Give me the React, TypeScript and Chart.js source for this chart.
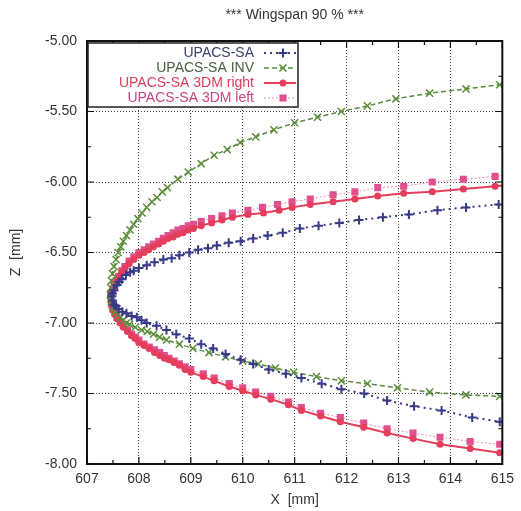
import React, { useEffect, useRef } from "react";
import { Chart, registerables } from "chart.js";

Chart.register(...registerables);

const TITLE = "*** Wingspan 90 % ***";
const X_TITLE = "X  [mm]";
const Y_TITLE = "Z  [mm]";
const X_MIN = 607;
const X_MAX = 615;
const Z_MIN = -8;
const Z_MAX = -5;

// UPACS-SA (blue, dotted, +)
const saX = [615.5, 614.93, 614.3, 613.75, 613.2, 612.7, 612.24, 611.86, 611.46, 611.1, 610.77, 610.48, 610.2, 609.96, 609.73, 609.5, 609.33, 609.14, 608.97, 608.78, 608.63, 608.47, 608.3, 608.15, 608.0, 607.9, 607.83, 607.75, 607.67, 607.62, 607.58, 607.52, 607.49, 607.48, 607.49, 607.52, 607.56, 607.61, 607.68, 607.76, 607.86, 607.96, 608.05, 608.15, 608.34, 608.53, 608.72, 608.97, 609.2, 609.43, 609.67, 609.96, 610.2, 610.5, 610.83, 611.13, 611.52, 611.9, 612.34, 612.78, 613.3, 613.83, 614.42, 614.95, 615.5];
const saZ = [-6.14, -6.16, -6.18, -6.2, -6.23, -6.25, -6.27, -6.29, -6.31, -6.33, -6.36, -6.38, -6.4, -6.42, -6.43, -6.45, -6.47, -6.48, -6.5, -6.52, -6.54, -6.55, -6.57, -6.59, -6.61, -6.63, -6.64, -6.66, -6.69, -6.71, -6.73, -6.77, -6.79, -6.81, -6.84, -6.87, -6.88, -6.9, -6.92, -6.93, -6.95, -6.96, -6.98, -7.0, -7.02, -7.05, -7.08, -7.11, -7.15, -7.18, -7.22, -7.26, -7.29, -7.33, -7.36, -7.39, -7.43, -7.47, -7.5, -7.55, -7.59, -7.62, -7.67, -7.7, -7.73];

// UPACS-SA INV (green, dashed, x)
const invX = [615.6, 614.95, 614.3, 613.6, 612.95, 612.4, 611.9, 611.44, 611.0, 610.6, 610.25, 609.95, 609.7, 609.45, 609.2, 608.95, 608.75, 608.55, 608.45, 608.35, 608.25, 608.15, 608.06, 607.98, 607.9, 607.83, 607.76, 607.7, 607.65, 607.6, 607.56, 607.52, 607.49, 607.47, 607.46, 607.45, 607.46, 607.47, 607.5, 607.54, 607.58, 607.64, 607.7, 607.76, 607.82, 607.93, 608.05, 608.16, 608.28, 608.4, 608.53, 608.78, 609.04, 609.35, 609.67, 610.0, 610.3, 610.63, 610.98, 611.42, 611.9, 612.4, 612.98, 613.6, 614.3, 614.95, 615.6];
const invZ = [-5.29, -5.31, -5.34, -5.37, -5.41, -5.46, -5.5, -5.54, -5.58, -5.63, -5.68, -5.72, -5.77, -5.81, -5.87, -5.93, -5.98, -6.04, -6.07, -6.11, -6.14, -6.18, -6.22, -6.26, -6.3, -6.34, -6.38, -6.42, -6.46, -6.5, -6.55, -6.6, -6.65, -6.7, -6.75, -6.8, -6.83, -6.85, -6.89, -6.92, -6.94, -6.96, -6.98, -7.0, -7.01, -7.03, -7.05, -7.06, -7.08, -7.1, -7.12, -7.15, -7.18, -7.21, -7.24, -7.27, -7.29, -7.32, -7.35, -7.38, -7.41, -7.43, -7.46, -7.49, -7.51, -7.52, -7.53];

// UPACS-SA 3DM right (red, solid, circles)
const rightX = [615.5, 614.86, 614.25, 613.65, 613.1, 612.6, 612.16, 611.74, 611.3, 610.95, 610.7, 610.4, 610.1, 609.8, 609.6, 609.4, 609.2, 609.05, 608.95, 608.85, 608.75, 608.66, 608.56, 608.47, 608.38, 608.28, 608.19, 608.1, 608.0, 607.9, 607.81, 607.73, 607.67, 607.61, 607.56, 607.52, 607.49, 607.47, 607.46, 607.47, 607.48, 607.5, 607.54, 607.58, 607.64, 607.7, 607.78, 607.86, 607.93, 608.0, 608.1, 608.2, 608.3, 608.4, 608.49, 608.58, 608.68, 608.78, 608.89, 609.0, 609.24, 609.45, 609.74, 610.0, 610.25, 610.54, 610.88, 611.13, 611.5, 611.88, 612.33, 612.78, 613.28, 613.8, 614.38, 614.95, 615.5];
const rightZ = [-6.01, -6.03, -6.05, -6.07, -6.08, -6.1, -6.12, -6.14, -6.16, -6.18, -6.2, -6.22, -6.23, -6.25, -6.27, -6.29, -6.31, -6.33, -6.34, -6.36, -6.37, -6.39, -6.4, -6.42, -6.44, -6.46, -6.48, -6.5, -6.52, -6.55, -6.58, -6.61, -6.64, -6.68, -6.71, -6.75, -6.78, -6.8, -6.82, -6.86, -6.88, -6.91, -6.94, -6.97, -7.0, -7.03, -7.06, -7.09, -7.11, -7.14, -7.16, -7.18, -7.21, -7.23, -7.25, -7.26, -7.28, -7.3, -7.33, -7.35, -7.38, -7.41, -7.45, -7.48, -7.51, -7.54, -7.58, -7.62, -7.66, -7.7, -7.74, -7.78, -7.82, -7.86, -7.89, -7.92, -7.95];

// UPACS-SA 3DM left (pink, thin dotted, squares)
const leftX = [615.5, 614.86, 614.25, 613.65, 613.1, 612.6, 612.16, 611.74, 611.3, 610.95, 610.67, 610.38, 610.1, 609.8, 609.6, 609.4, 609.2, 609.05, 608.95, 608.85, 608.75, 608.66, 608.56, 608.47, 608.38, 608.28, 608.19, 608.1, 608.0, 607.9, 607.81, 607.73, 607.67, 607.61, 607.56, 607.52, 607.49, 607.47, 607.46, 607.47, 607.48, 607.5, 607.54, 607.58, 607.64, 607.7, 607.78, 607.86, 607.93, 608.0, 608.1, 608.2, 608.3, 608.4, 608.49, 608.58, 608.68, 608.78, 608.89, 609.0, 609.24, 609.45, 609.74, 610.0, 610.25, 610.54, 610.88, 611.13, 611.5, 611.88, 612.33, 612.78, 613.28, 613.8, 614.38, 614.95, 615.5];
const leftZ = [-5.94, -5.96, -5.98, -6.0, -6.03, -6.04, -6.07, -6.09, -6.12, -6.14, -6.16, -6.18, -6.2, -6.22, -6.24, -6.26, -6.28, -6.3, -6.31, -6.33, -6.34, -6.36, -6.38, -6.4, -6.42, -6.44, -6.46, -6.48, -6.5, -6.53, -6.56, -6.6, -6.63, -6.67, -6.7, -6.74, -6.77, -6.79, -6.81, -6.85, -6.87, -6.9, -6.93, -6.96, -6.99, -7.02, -7.05, -7.08, -7.1, -7.12, -7.15, -7.17, -7.19, -7.21, -7.23, -7.25, -7.27, -7.29, -7.31, -7.33, -7.36, -7.39, -7.43, -7.46, -7.49, -7.52, -7.56, -7.6, -7.64, -7.67, -7.71, -7.75, -7.78, -7.81, -7.84, -7.86, -7.88];

const toPoints = (xs: number[], zs: number[]) => xs.map((x, i) => ({ x, y: zs[i] }));

const FONT = "'Liberation Sans', Arial, sans-serif";

type LegendEntry = {
  label: string;
  textColor: string;
};

const LEGEND: LegendEntry[] = [
  { label: "UPACS-SA", textColor: "#3e4070" },
  { label: "UPACS-SA INV", textColor: "#466040" },
  { label: "UPACS-SA 3DM right", textColor: "#d83c5c" },
  { label: "UPACS-SA 3DM left", textColor: "#c84682" },
];

const decorPlugin = {
  id: "decor",
  afterDatasetsDraw(chart: any) {
    const { ctx, chartArea } = chart;
    const { left, right, top, bottom } = chartArea;
    const xs = chart.scales.x;
    const ys = chart.scales.y;
    ctx.save();
    // frame
    ctx.strokeStyle = "#111";
    ctx.lineWidth = 2;
    ctx.setLineDash([]);
    ctx.strokeRect(left, top, right - left, bottom - top);
    // inward ticks
    ctx.lineWidth = 1.2;
    ctx.beginPath();
    for (let v = X_MIN; v <= X_MAX + 1e-9; v += 0.5) {
      const px = xs.getPixelForValue(v);
      const len = Math.abs(v - Math.round(v)) < 1e-6 ? 7 : 4;
      ctx.moveTo(px, bottom);
      ctx.lineTo(px, bottom - len);
      ctx.moveTo(px, top);
      ctx.lineTo(px, top + len);
    }
    for (let v = Z_MIN; v <= Z_MAX + 1e-9; v += 0.25) {
      const py = ys.getPixelForValue(v);
      const isMajor = Math.abs(v * 2 - Math.round(v * 2)) < 1e-6;
      const len = isMajor ? 7 : 4;
      ctx.moveTo(left, py);
      ctx.lineTo(left + len, py);
      ctx.moveTo(right, py);
      ctx.lineTo(right - len, py);
    }
    ctx.stroke();

    // legend
    const bx = left + 1;
    const by = top + 2;
    const bw = 210;
    const bh = 64;
    ctx.fillStyle = "#fff";
    ctx.fillRect(bx, by, bw, bh);
    ctx.strokeStyle = "#222";
    ctx.lineWidth = 1.5;
    ctx.strokeRect(bx, by, bw, bh);
    ctx.font = `14px ${FONT}`;
    ctx.textAlign = "right";
    ctx.textBaseline = "middle";
    const rowY = [by + 10, by + 25, by + 40, by + 55];
    chart.data.datasets.forEach((ds: any, i: number) => {
      const y = rowY[i];
      ctx.fillStyle = LEGEND[i].textColor;
      ctx.fillText(LEGEND[i].label, bx + 166, y);
      ctx.save();
      ctx.strokeStyle = ds.borderColor;
      ctx.lineWidth = ds.borderWidth;
      ctx.setLineDash(ds.borderDash || []);
      ctx.beginPath();
      ctx.moveTo(bx + 176, y);
      ctx.lineTo(bx + 208, y);
      ctx.stroke();
      ctx.restore();
      // marker
      ctx.save();
      const mx = bx + 195;
      ctx.strokeStyle = ds.pointBorderColor;
      ctx.fillStyle = ds.pointBackgroundColor;
      ctx.lineWidth = ds.pointBorderWidth;
      const r = ds.pointRadius;
      ctx.beginPath();
      if (ds.pointStyle === "cross") {
        ctx.moveTo(mx - r, y); ctx.lineTo(mx + r, y);
        ctx.moveTo(mx, y - r); ctx.lineTo(mx, y + r);
        ctx.stroke();
      } else if (ds.pointStyle === "crossRot") {
        const d = r * 0.707;
        ctx.moveTo(mx - d, y - d); ctx.lineTo(mx + d, y + d);
        ctx.moveTo(mx + d, y - d); ctx.lineTo(mx - d, y + d);
        ctx.stroke();
      } else if (ds.pointStyle === "circle") {
        ctx.arc(mx, y, r, 0, Math.PI * 2);
        ctx.fill();
      } else {
        const s = r * 0.707;
        ctx.fillRect(mx - s, y - s, 2 * s, 2 * s);
      }
      ctx.restore();
    });

    // titles
    ctx.fillStyle = "#333";
    ctx.font = `14px ${FONT}`;
    ctx.textAlign = "center";
    ctx.textBaseline = "middle";
    const cx = (left + right) / 2;
    ctx.fillText(TITLE, cx, 15);
    ctx.fillText(X_TITLE, cx, 500);
    ctx.save();
    ctx.translate(16, (top + bottom) / 2);
    ctx.rotate(-Math.PI / 2);
    ctx.fillText(Y_TITLE, 0, 0);
    ctx.restore();
    ctx.restore();
  },
};

export default function App() {
  const ref = useRef<HTMLCanvasElement | null>(null);
  useEffect(() => {
    if (!ref.current) return;
    const chart = new Chart(ref.current, {
      type: "scatter",
      data: {
        datasets: [
          {
            label: "UPACS-SA",
            data: toPoints(saX, saZ),
            showLine: true,
            borderColor: "#3a3c86",
            borderWidth: 2,
            borderDash: [2, 4],
            pointStyle: "cross",
            pointRadius: 4.5,
            pointBorderWidth: 2,
            pointBorderColor: "#363a88",
            pointBackgroundColor: "#363a88",
          },
          {
            label: "UPACS-SA INV",
            data: toPoints(invX, invZ),
            showLine: true,
            borderColor: "#5a8a3e",
            borderWidth: 1.5,
            borderDash: [5, 3],
            pointStyle: "crossRot",
            pointRadius: 5,
            pointBorderWidth: 1.5,
            pointBorderColor: "#5b8e3a",
            pointBackgroundColor: "#5b8e3a",
          },
          {
            label: "UPACS-SA 3DM right",
            data: toPoints(rightX, rightZ),
            showLine: true,
            borderColor: "#e43e5c",
            borderWidth: 2,
            borderDash: [],
            pointStyle: "circle",
            pointRadius: 3.5,
            pointBorderWidth: 0,
            pointBorderColor: "#e43e5c",
            pointBackgroundColor: "#e43e5c",
          },
          {
            label: "UPACS-SA 3DM left",
            data: toPoints(leftX, leftZ),
            showLine: true,
            borderColor: "#f08ab2",
            borderWidth: 1,
            borderDash: [2, 2],
            pointStyle: "rect",
            pointRadius: 5,
            pointBorderWidth: 0,
            pointBorderColor: "#e0508e",
            pointBackgroundColor: "#e0508e",
          },
        ],
      },
      options: {
        animation: false,
        responsive: false,
        maintainAspectRatio: false,
        layout: { padding: { top: 41, right: 16, left: 0, bottom: 0 } },
        plugins: {
          legend: { display: false },
          title: { display: false },
          tooltip: { enabled: false },
        },
        scales: {
          x: {
            type: "linear",
            min: X_MIN,
            max: X_MAX,
            ticks: {
              stepSize: 1,
              color: "#333",
              font: { size: 14, family: FONT },
              padding: 7,
              maxRotation: 0,
            },
            grid: { color: "#444", lineWidth: 1, drawTicks: false },
            border: { display: false, dash: [1, 2] },
            afterFit: (s: any) => {
              s.height = 47;
            },
          },
          y: {
            type: "linear",
            min: Z_MIN,
            max: Z_MAX,
            ticks: {
              stepSize: 0.5,
              color: "#333",
              font: { size: 14, family: FONT },
              padding: 10,
              callback: (v: any) => Number(v).toFixed(2),
            },
            grid: { color: "#444", lineWidth: 1, drawTicks: false },
            border: { display: false, dash: [1, 2] },
            afterFit: (s: any) => {
              s.width = 87;
            },
          },
        },
      },
      plugins: [decorPlugin],
    });
    return () => chart.destroy();
  }, []);
  return (
    <div style={{ position: "fixed", left: 0, top: 0, width: 521, height: 511, background: "#fff" }}>
      <canvas ref={ref} width={521} height={511} style={{ width: 521, height: 511, display: "block" }} />
    </div>
  );
}
